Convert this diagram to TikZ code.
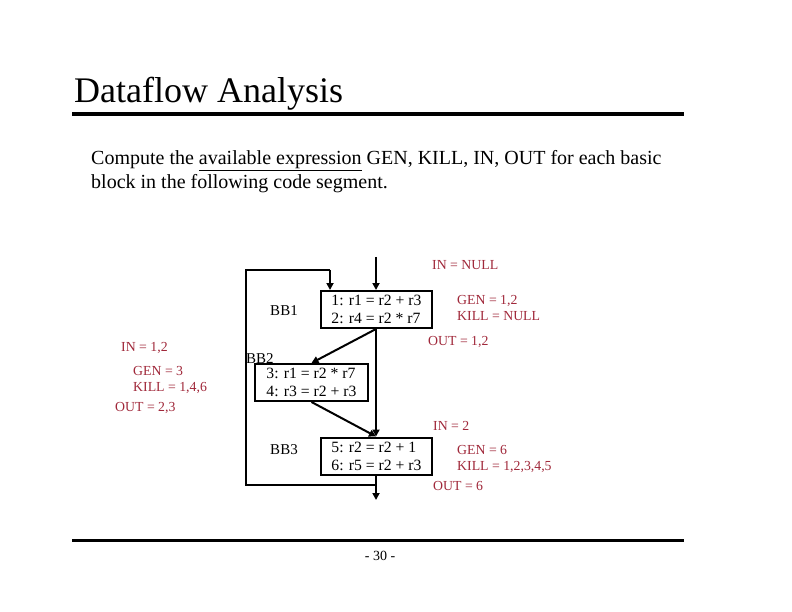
\documentclass[tikz,border=0pt]{standalone}
\usepackage{fontspec}
\setmainfont{Liberation Serif}
\usetikzlibrary{arrows.meta}
\definecolor{ann}{HTML}{A0283A}
\begin{document}
\begin{tikzpicture}[x=1pt,y=-1pt,
  bb/.style={draw,line width=2pt,minimum height=37pt,inner sep=2pt,font=\fontsize{15.7}{18}\selectfont,align=left},
  lab/.style={font=\fontsize{15}{17}\selectfont},
  an/.style={text=ann,font=\fontsize{13.8}{16}\selectfont,align=left,inner sep=0pt,anchor=west},
  ar/.style={line width=2pt,-{Triangle[length=7pt,width=7pt]}},
  ln/.style={line width=2pt}]
\useasboundingbox (0,0) rectangle (792,612);
\node[anchor=base west,inner sep=0pt,font=\fontsize{36}{40}\selectfont] (title) at (74,103) {Dataflow Analysis};
\draw[line width=4pt] (72,114) -- (684,114);
\draw[line width=3pt] (72,540) -- (684,540);
\node[anchor=base,font=\fontsize{14}{16}\selectfont] (pg) at (380,560) {- 30 -};
\node[anchor=base west,inner sep=0pt,font=\fontsize{20}{24}\selectfont] (t1) at (91,165) {Compute the \underline{available expression} GEN, KILL, IN, OUT for each basic};
\node[anchor=base west,inner sep=0pt,font=\fontsize{20}{24}\selectfont] (t2) at (91,189) {block in the following code segment.};
\node[bb,minimum width=111pt] (b1) at (376.5,309.5) {1: r1 = r2 + r3\\2: r4 = r2 * r7};
\node[bb,minimum width=113pt] (b2) at (311.5,382.5) {3: r1 = r2 * r7\\4: r3 = r2 + r3};
\node[bb,minimum width=111pt] (b3) at (376.5,456) {5: r2 = r2 + 1\\6: r5 = r2 + r3};
\node[lab] (l1) at (284,311) {BB1};
\node[lab,anchor=south west,inner sep=0pt] (l2) at (246,364) {BB2};
\node[lab] (l3) at (284,450) {BB3};
\coordinate (in) at (376,257);
\coordinate (out) at (376,500);
\coordinate (lb) at (376,485);
\coordinate (c1) at (246,485);
\coordinate (c2) at (246,270);
\coordinate (c3) at (330,270);
\draw[ar] (in) -- (b1.north -| in);
\draw[ar] (b1.south -| in) -- (b3.north -| in);
\draw[ar] (b1.south -| in) -- (b2.north);
\draw[ar] (b2.south) -- (b3.north -| in);
\draw[ar] (b3.south -| in) -- (out);
\draw[ln] (lb) -- (c1) -- (c2) -- (c3);
\draw[ar] (c3) -- (c3 |- b1.north);
\node[an] (a1) at (432,265) {IN = NULL};
\node[an] (a2) at (457,308) {GEN = 1,2\\KILL = NULL};
\node[an] (a3) at (428,342) {OUT = 1,2};
\node[an] (a4) at (121,348) {IN = 1,2};
\node[an] (a5) at (133,380) {GEN = 3\\KILL = 1,4,6};
\node[an] (a6) at (115,408) {OUT = 2,3};
\node[an] (a7) at (433,426) {IN = 2};
\node[an] (a8) at (457,459) {GEN = 6\\KILL = 1,2,3,4,5};
\node[an] (a9) at (433,486) {OUT = 6};
\end{tikzpicture}
\end{document}
